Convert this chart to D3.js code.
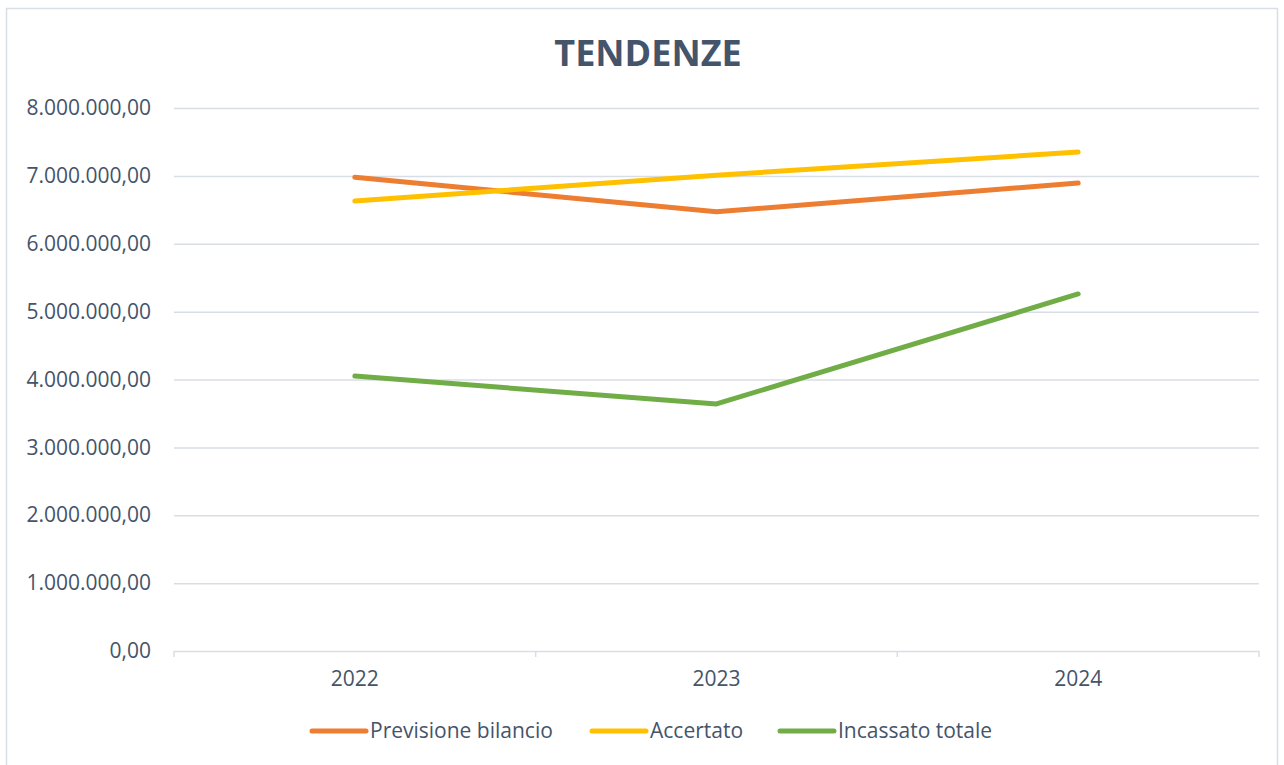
<!DOCTYPE html>
<html>
<head>
<meta charset="utf-8">
<script src="https://cdn.jsdelivr.net/npm/d3@7"></script>
<style>
  body { margin: 0; background: #fff; }
  svg { display: block; font-family: "Open Sans", sans-serif; }
</style>
</head>
<body>
<svg></svg>
<script>
const years = ['2022', '2023', '2024'];
const seriesNames = ['Previsione bilancio', 'Accertato', 'Incassato totale'];
const previsione = [6980000, 6470000, 6895000];
const accertato = [6630000, 7010000, 7350000];
const incassato = [4050000, 3640000, 5260000];
const yTicks = [0, 1000000, 2000000, 3000000, 4000000, 5000000, 6000000, 7000000, 8000000];
const colors = ['#ED7D31', '#FFC000', '#70AD47'];

const width = 1284;
const height = 765;
const margin = { top: 108, right: 25, bottom: 114, left: 174 };

const svg = d3.select('svg').attr('width', width).attr('height', height);

// chart frame
svg.append('rect')
  .attr('x', 6.5).attr('y', 8.5)
  .attr('width', 1271).attr('height', 770)
  .attr('fill', 'none').attr('stroke', '#D9DEE5').attr('stroke-width', 1.5);

// title
svg.append('text')
  .attr('x', 648).attr('y', 66)
  .attr('text-anchor', 'middle')
  .attr('font-size', 36).attr('font-weight', 'bold')
  .attr('fill', '#44546A')
  .text('TENDENZE');

const x = d3.scaleBand().domain(years).range([margin.left, width - margin.right]);
const y = d3.scaleLinear().domain([0, 8000000]).range([height - margin.bottom, margin.top]);

// italian number format
const itFormat = d3.formatLocale({ decimal: ',', thousands: '.', grouping: [3], currency: ['€', ''] }).format(',.2f');

// gridlines + y labels
const yAxis = svg.append('g')
  .attr('transform', `translate(${margin.left},0)`)
  .call(d3.axisLeft(y).tickValues(yTicks).tickFormat(itFormat).tickSize(-(width - margin.left - margin.right)).tickPadding(23));
yAxis.select('.domain').remove();
yAxis.selectAll('line').attr('stroke', '#D9DEE5').attr('stroke-width', 1.5);
yAxis.selectAll('text').attr('fill', '#44546A').attr('font-size', 21).attr('font-family', '"Open Sans", sans-serif');

// x axis
const xAxis = svg.append('g')
  .attr('transform', `translate(0,${y(0)})`)
  .call(d3.axisBottom(x).tickSize(0).tickPadding(20));
xAxis.select('.domain').remove();
xAxis.selectAll('text').attr('fill', '#44546A').attr('font-size', 21).attr('font-family', '"Open Sans", sans-serif');

// category boundary ticks
const bounds = years.map(d => x(d)).concat([x(years[years.length - 1]) + x.bandwidth()]);
svg.append('g').selectAll('line')
  .data(bounds)
  .join('line')
  .attr('x1', d => d).attr('x2', d => d)
  .attr('y1', y(0)).attr('y2', y(0) + 6)
  .attr('stroke', '#D9DEE5').attr('stroke-width', 1.5);

// lines
const allSeries = [previsione, accertato, incassato];
const line = d3.line()
  .x((d, i) => x(years[i]) + x.bandwidth() / 2)
  .y(d => y(d));

svg.append('g').selectAll('path')
  .data(allSeries)
  .join('path')
  .attr('d', line)
  .attr('fill', 'none')
  .attr('stroke', (d, i) => colors[i])
  .attr('stroke-width', 5)
  .attr('stroke-linecap', 'round')
  .attr('stroke-linejoin', 'round');

// legend
const legendX = [310, 590, 778];
const legend = svg.append('g').selectAll('g')
  .data(seriesNames)
  .join('g')
  .attr('transform', (d, i) => `translate(${legendX[i]},731)`);
legend.append('line')
  .attr('x1', 2).attr('x2', 56)
  .attr('stroke', (d, i) => colors[i])
  .attr('stroke-width', 5)
  .attr('stroke-linecap', 'round');
legend.append('text')
  .attr('x', 60).attr('y', 7)
  .attr('font-size', 21)
  .attr('fill', '#44546A')
  .text(d => d);
</script>
</body>
</html>
